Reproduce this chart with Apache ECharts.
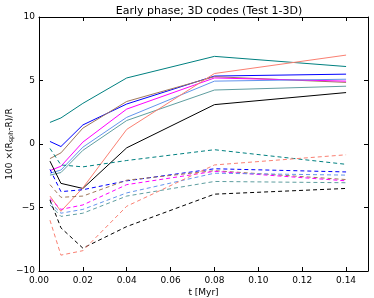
<!DOCTYPE html>
<html>
<head>
<meta charset="utf-8">
<script src="https://cdn.jsdelivr.net/npm/echarts@6/dist/echarts.min.js"></script>
<style>
html,body{margin:0;padding:0;background:#fff;}
#c{width:374px;height:298px;}
</style>
</head>
<body>
<div id="c"></div>
<script>
var times = [0.005, 0.01, 0.02, 0.04, 0.08, 0.14];
var yTicks = [-10, -5, 0, 5, 10];
var xTicks = [0.00, 0.02, 0.04, 0.06, 0.08, 0.10, 0.12, 0.14];

// solid lines
var solidTeal      = [1.7, 2.05, 3.2, 5.2, 6.9, 6.1];
var solidBlue      = [0.2, -0.2, 1.5, 3.15, 5.35, 5.5];
var solidBrown     = [-1.15, -0.7, 1.25, 3.35, 5.3, 4.85];
var solidMagenta   = [-2.1, -1.75, 0.15, 2.75, 5.2, 4.95];
var solidLightBlue = [-2.3, -2.05, -0.25, 2.1, 4.95, 5.1];
var solidCadet     = [-2.45, -2.25, -0.5, 1.85, 4.25, 4.55];
var solidBlack     = [-1.35, -3.1, -3.5, -0.3, 3.1, 4.05];
var solidSalmon    = [-4.1, -5.3, -3.45, 1.15, 5.55, 7.0];

// dashed lines
var dashTeal      = [-0.35, -1.65, -1.8, -1.3, -0.45, -1.6];
var dashBlue      = [-2.0, -3.75, -3.6, -2.9, -1.95, -2.2];
var dashBrown     = [-3.2, -4.2, -4.1, -2.85, -2.1, -2.8];
var dashMagenta   = [-4.3, -5.15, -4.8, -3.2, -2.15, -2.9];
var dashLightBlue = [-4.6, -5.45, -5.15, -3.85, -2.3, -2.45];
var dashCadet     = [-4.8, -5.7, -5.45, -4.1, -2.95, -3.05];
var dashBlack     = [-4.4, -6.6, -8.2, -6.5, -3.95, -3.5];
var dashSalmon    = [-6.0, -8.75, -8.4, -4.9, -1.65, -0.85];

var seriesDefs = [
  ['teal solid', solidTeal, '#008080', 'solid'],
  ['blue solid', solidBlue, '#0000ff', 'solid'],
  ['brown solid', solidBrown, '#a0785a', 'solid'],
  ['magenta solid', solidMagenta, '#ff00ff', 'solid'],
  ['lightblue solid', solidLightBlue, '#6495ed', 'solid'],
  ['cadet solid', solidCadet, '#5f9ea0', 'solid'],
  ['black solid', solidBlack, '#000000', 'solid'],
  ['salmon solid', solidSalmon, '#fa8072', 'solid'],
  ['teal dashed', dashTeal, '#008080', 'dashed'],
  ['blue dashed', dashBlue, '#0000ff', 'dashed'],
  ['brown dashed', dashBrown, '#a0785a', 'dashed'],
  ['magenta dashed', dashMagenta, '#ff00ff', 'dashed'],
  ['lightblue dashed', dashLightBlue, '#6495ed', 'dashed'],
  ['cadet dashed', dashCadet, '#5f9ea0', 'dashed'],
  ['black dashed', dashBlack, '#000000', 'dashed'],
  ['salmon dashed', dashSalmon, '#fa8072', 'dashed']
];

var series = seriesDefs.map(function (d) {
  return {
    name: d[0],
    type: 'line',
    xAxisIndex: 0,
    yAxisIndex: 0,
    data: times.map(function (t, i) { return [t, d[1][i]]; }),
    showSymbol: false,
    symbol: 'none',
    lineStyle: { color: d[2], width: 1, type: d[3] === 'dashed' ? [4, 3] : 'solid' },
    z: 3
  };
});

var FONT = 'DejaVu Sans';
function minusFmt(v) { return String(v).replace('-', '\u2212'); }

var chart = echarts.init(document.getElementById('c'), null, { renderer: 'canvas' });
chart.setOption({
  animation: false,
  backgroundColor: '#ffffff',
  title: {
    text: 'Early phase; 3D codes (Test 1-3D)',
    left: 204, top: 1, textAlign: 'center',
    textStyle: { fontFamily: FONT, fontSize: 11, fontWeight: 'normal', color: '#000' }
  },
  grid: { left: 39, right: 6, top: 17, bottom: 27, containLabel: false, outerBoundsMode: 'none' },
  xAxis: [{
    type: 'value', min: 0, max: 0.15, interval: 0.02,
    axisLine: { show: true, onZero: false, lineStyle: { color: '#000', width: 1 } },
    axisTick: { show: true, inside: true, length: 4, lineStyle: { color: '#000' } },
    axisLabel: { showMaxLabel: false, fontFamily: FONT, fontSize: 9, color: '#000', margin: 5,
      formatter: function (v) { return v.toFixed(2); } },
    splitLine: { show: false },
    name: 't [Myr]', nameLocation: 'middle', nameGap: 17, nameMoveOverlap: false,
    nameTextStyle: { fontFamily: FONT, fontSize: 9, color: '#000' }
  }, {
    type: 'value', position: 'top', min: 0, max: 0.15, interval: 0.02,
    axisLine: { show: true, onZero: false, lineStyle: { color: '#000', width: 1 } },
    axisTick: { show: true, inside: true, length: 4, lineStyle: { color: '#000' } },
    axisLabel: { show: false }, splitLine: { show: false }
  }],
  yAxis: [{
    type: 'value', min: -10, max: 10, interval: 5,
    axisLine: { show: true, onZero: false, lineStyle: { color: '#000', width: 1 } },
    axisTick: { show: true, inside: true, length: 4, lineStyle: { color: '#000' } },
    axisLabel: { fontFamily: FONT, fontSize: 9, color: '#000', margin: 4, formatter: minusFmt },
    splitLine: { show: false },
    name: '{a|100 \u00d7(R}{s|sph}{a|-R)/R}', nameLocation: 'middle', nameGap: 24, nameRotate: 90,
    nameMoveOverlap: false,
    nameTextStyle: { fontFamily: FONT, fontSize: 9, color: '#000',
      rich: {
        a: { fontFamily: FONT, fontSize: 9, color: '#000' },
        s: { fontFamily: FONT, fontSize: 6.5, color: '#000', padding: [4, 0, 0, 0] }
      } }
  }, {
    type: 'value', position: 'right', min: -10, max: 10, interval: 5,
    axisLine: { show: true, onZero: false, lineStyle: { color: '#000', width: 1 } },
    axisTick: { show: true, inside: true, length: 4, lineStyle: { color: '#000' } },
    axisLabel: { show: false }, splitLine: { show: false }
  }],
  series: series
});
</script>
</body>
</html>
